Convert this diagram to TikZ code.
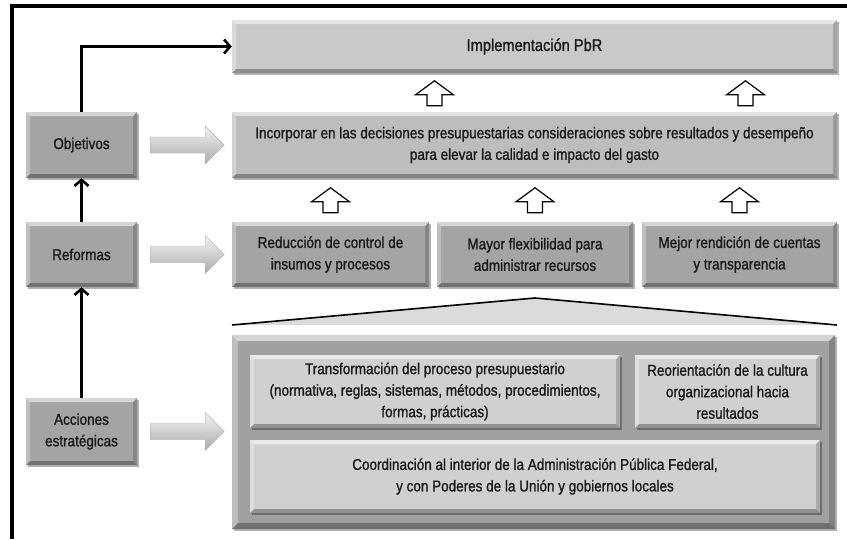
\documentclass[tikz,border=0pt]{standalone}
\usepackage{fontspec}
\setmainfont{Liberation Sans}[FakeStretch=0.86,FakeBold=1.2]
\usetikzlibrary{arrows.meta,shadows}
\definecolor{txt}{HTML}{1A1A1A}
\definecolor{boxA}{HTML}{C9C9C9}
\definecolor{boxB}{HTML}{BDBDBD}
\definecolor{boxC}{HTML}{A4A4A4}
\definecolor{boxD}{HTML}{A0A0A0}
\definecolor{boxE}{HTML}{D0D0D0}
\tikzset{
  bev/.style={path picture={
    \fill[white,opacity=.55] (path picture bounding box.north west) -- (path picture bounding box.north east) -- ([xshift=-#1,yshift=-#1]path picture bounding box.north east) -- ([xshift=#1,yshift=-#1]path picture bounding box.north west) -- cycle;
    \fill[white,opacity=.3] (path picture bounding box.north west) -- ([xshift=#1,yshift=-#1]path picture bounding box.north west) -- ([xshift=#1,yshift=#1]path picture bounding box.south west) -- (path picture bounding box.south west) -- cycle;
    \fill[black,opacity=.3] (path picture bounding box.south west) -- (path picture bounding box.south east) -- ([xshift=-#1,yshift=#1]path picture bounding box.south east) -- ([xshift=#1,yshift=#1]path picture bounding box.south west) -- cycle;
    \fill[black,opacity=.18] (path picture bounding box.north east) -- (path picture bounding box.south east) -- ([xshift=-#1,yshift=#1]path picture bounding box.south east) -- ([xshift=-#1,yshift=-#1]path picture bounding box.north east) -- cycle;
  }},
  bev/.default=4pt,
  box/.style={inner sep=0pt, align=center, text=txt,
    font=\fontsize{15.7}{21.5}\selectfont, bev,
    drop shadow={shadow xshift=1.5pt,shadow yshift=-1.5pt,opacity=.3,fill=black}},
  conn/.style={line width=2.6pt, -{Straight Barb[length=6pt,width=14pt]}},
  rarrow/.pic={\shade[top color=gray!10, bottom color=gray!65, draw=gray!70, line width=.4pt]
     (13,-8) -- (68,-8) -- (68,-19) -- (87,0) -- (68,19) -- (68,8) -- (13,8) -- cycle;},
  uarrow/.pic={\draw[fill=white, line width=1.2pt, line join=miter]
     (-7.5,0) -- (-7.5,-11) -- (-19,-11) -- (0,-25) -- (19,-11) -- (7.5,-11) -- (7.5,0) -- cycle;}
}
\begin{document}
\begin{tikzpicture}[x=1pt,y=-1pt]
\useasboundingbox[fill=white] (0,0) rectangle (847,539);
% frame
\draw[line width=4pt, line join=miter] (12,539) -- (12,5.5) -- (847,5.5);

% right column
\node[box, fill=boxA, minimum width=605pt, minimum height=53pt, font=\fontsize{17}{21}\selectfont] (impl) at (534.5,46.5) {Implementación PbR};
\node[box, fill=boxB, minimum width=605pt, minimum height=66pt] (inc) at (534.5,145)
  {Incorporar en las decisiones presupuestarias consideraciones sobre resultados y desempeño\\para elevar la calidad e impacto del gasto};
\node[box, fill=boxC, minimum width=197pt, minimum height=65pt] (red) at (330.5,254.5) {Reducción de control de\\insumos y procesos};
\node[box, fill=boxC, minimum width=196pt, minimum height=65pt] (may) at (535,254.5) {Mayor flexibilidad para\\administrar recursos};
\node[box, fill=boxC, minimum width=195pt, minimum height=65pt] (mej) at (739.5,254.5) {Mejor rendición de cuentas\\y transparencia};

% triangle
\fill[gray!28] (232,325) -- (535,298) -- (837,325) -- cycle;
\draw[line width=1.6pt, line join=miter] (232,325) -- (535,298) -- (837,325);

\node[box, fill=boxD, minimum width=603pt, minimum height=194pt, bev=6pt] (big) at (533.5,432) {};
\node[box, fill=boxE, minimum width=370pt, minimum height=73pt] (tra) at (435,391.5)
  {Transformación del proceso presupuestario\\(normativa, reglas, sistemas, métodos, procedimientos,\\formas, prácticas)};
\node[box, fill=boxE, minimum width=185pt, minimum height=73pt] (reo) at (727.5,391.5)
  {Reorientación de la cultura\\organizacional hacia\\resultados};
\node[box, fill=boxE, minimum width=570pt, minimum height=73pt] (coo) at (535,476.5)
  {Coordinación al interior de la Administración Pública Federal,\\y con Poderes de la Unión y gobiernos locales};

% left column
\node[box, fill=boxC, minimum width=111pt, minimum height=66pt] (obj) at (81.5,145) {Objetivos};
\node[box, fill=boxC, minimum width=111pt, minimum height=65pt] (ref) at (81.5,254.5) {Reformas};
\node[box, fill=boxC, minimum width=111pt, minimum height=67pt] (acc) at (81.5,431.5) {Acciones\\estratégicas};

% connectors
\draw[conn] (obj.north) |- (impl.west);
\draw[conn] (ref.north) -- (obj.south);
\draw[conn] (acc.north) -- (ref.south);

% block arrows
\pic at (obj.east) {rarrow};
\pic at (ref.east) {rarrow};
\pic at (acc.east) {rarrow};

\pic at ([xshift=-100pt,yshift=6pt]inc.north) {uarrow};
\pic at ([xshift=211pt,yshift=6pt]inc.north) {uarrow};
\pic at ([yshift=9pt]red.north) {uarrow};
\pic at ([yshift=9pt]may.north) {uarrow};
\pic at ([yshift=9pt]mej.north) {uarrow};
\end{tikzpicture}
\end{document}
